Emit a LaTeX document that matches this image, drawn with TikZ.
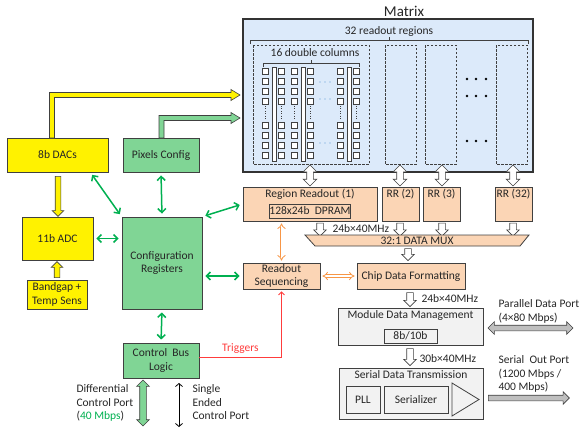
\documentclass[tikz,border=0pt]{standalone}
\usepackage{fontspec}
\setmainfont{Carlito}
\usetikzlibrary{arrows.meta,shapes.arrows,calc}
\definecolor{matblue}{RGB}{220,234,250}
\definecolor{peach}{RGB}{251,213,181}
\definecolor{cfggreen}{RGB}{128,213,149}
\definecolor{arrgreen}{RGB}{0,176,80}
\definecolor{orarr}{RGB}{247,150,70}
\definecolor{edge}{RGB}{64,64,64}
\definecolor{lgray}{RGB}{242,242,242}
\definecolor{mgray}{RGB}{191,191,191}
\definecolor{dotblue}{RGB}{91,155,213}
\definecolor{trigred}{RGB}{255,60,60}

\begin{document}
\begin{tikzpicture}[x=1pt, y=-1pt, font=\fontsize{11.5}{13.5}\selectfont, text=black!85,
	box/.style={draw=edge, line width=0.8pt, inner sep=0pt, align=center},
	pix/.style={draw=edge, fill=white, line width=0.4pt},
	region/.style={draw=edge, line width=0.6pt, dash pattern=on 2.5pt off 1.5pt},
	blkdbl/.style={double arrow, draw=edge, fill=white, line width=0.6pt, inner sep=3pt, double arrow head extend=3.5pt},
	blkarr/.style={single arrow, draw=edge, fill=white, line width=0.6pt, inner sep=3pt, single arrow head extend=3pt},
	garr/.style={arrgreen, line width=1.5pt, {Straight Barb[length=4pt,width=8pt]}-{Straight Barb[length=4pt,width=8pt]}, shorten <=3pt, shorten >=3pt},
	oarr/.style={orarr, line width=0.8pt, double=white, double distance=2pt, {Implies}-{Implies}, shorten <=2pt, shorten >=2pt}]
			\useasboundingbox (0,0) rectangle (581,429);
			% matrix
			\node[box, fill=matblue, line width=1.1pt, draw=black!80, minimum width=290, minimum height=153] (mat) at (388,95.5) {};
			\node[font=\fontsize{15}{16}\selectfont] (mattitle) at (404,11) {Matrix};
			\node (nreg) at (389,31) {32 readout regions};
			\draw[edge] (250,44) -- (250,40) -- (528,40) -- (528,44);
			\draw[edge] (389,40) -- (389,37);
			\draw[region] (253,45) rectangle (369,164);
			\foreach \x in {385, 425, 496}
				\draw[region] (\x,45) rectangle +(31,119);
			\node (ncol) at (315,53) {16 double columns};
			\draw[edge] (263,67) -- (263,63) -- (359,63) -- (359,67);
			\draw[edge] (311,63) -- (311,60);
			\foreach \gx in {262, 291, 337}
			{
				\foreach \r in {68, 78, 88, 98, 122, 132, 142, 152}
				{
					\draw[pix] (\gx,\r) rectangle +(6.5,6.5);
					\draw[pix] (\gx+16,\r) rectangle +(6.5,6.5);
				}
				\filldraw[fill=white, draw=edge, line width=0.6pt] (\gx+10,67) rectangle (\gx+14,161);
				\draw[edge, dotted] (\gx+3.25,106) -- (\gx+3.25,120);
				\draw[edge, dotted] (\gx+19.25,106) -- (\gx+19.25,120);
			}
			\foreach \y in {82, 99, 143}
				\foreach \x in {320, 325, 330}
					\fill[dotblue] (\x,\y) circle (0.6);
			\foreach \y in {79, 96, 141}
				\foreach \x in {467, 476, 486}
					\fill[black] (\x,\y) circle (1.3);
			% readout chain
			\node[box, fill=peach, minimum width=134, minimum height=34, label={[anchor=north, inner sep=2.5pt]north:Region Readout (1)}] (rr1) at (310,204) {};
			\node[box, fill=peach, minimum width=78, minimum height=14] (dpram) at (310,211) {128x24b\ \ DPRAM};
			\node[box, fill=peach, minimum width=37, minimum height=34, label={[anchor=north, inner sep=2.5pt]north:RR (2)}] (rr2) at (400.5,204) {};
			\node[box, fill=peach, minimum width=37, minimum height=34, label={[anchor=north, inner sep=2.5pt]north:RR (3)}] (rr3) at (441.5,204) {};
			\node[box, fill=peach, minimum width=37, minimum height=34, label={[anchor=north, inner sep=2.5pt]north:RR (32)}] (rr32) at (513.5,204) {};
			\foreach \x/\n in {310/1, 400/2, 442/3, 513/32}
				\node[blkdbl, shape border rotate=90, minimum height=21pt] (up\n) at (\x,175.5) {};
			\foreach \x/\n in {320/1, 400/2, 442/3, 513/32}
				\node[blkarr, shape border rotate=270, minimum height=13pt] (dn\n) at (\x,228) {};
			\node[anchor=west] (bw1) at (329,228.5) {24b×40MHz};
			\filldraw[fill=peach, draw=edge, line width=0.8pt] (305,235) -- (529,235) -- (520,246) -- (315,246) -- cycle;
			\node (mux) at (417,240.5) {32:1 DATA MUX};
			\node[blkarr, shape border rotate=270, minimum height=12pt] (dnmux) at (408,253) {};
			\node[box, fill=peach, minimum width=108, minimum height=26] (cdf) at (411,276) {Chip Data Formatting};
			\node[box, fill=peach, minimum width=77, minimum height=26] (rs) at (281.5,276) {Readout\\Sequencing};
			\draw[oarr] (rs.north |- rr1.south) -- (rs.north);
			\draw[oarr] (rs.east) -- (cdf.west);
			\node[blkarr, shape border rotate=270, minimum height=14pt] (dncdf) at (410,298) {};
			\node[anchor=west] (bw2) at (418,299) {24b×40MHz};
			\node[box, fill=lgray, minimum width=145, minimum height=37, label={[anchor=north, inner sep=3pt]north:Module Data Management}] (mdm) at (410.5,326.5) {};
			\node[box, fill=lgray, minimum width=53, minimum height=14] (enc) at (410.5,336) {8b/10b};
			\node[blkarr, shape border rotate=270, minimum height=17pt] (dnmdm) at (410,355.5) {};
			\node[anchor=west] (bw3) at (416,359) {30b×40MHz};
			\node[box, fill=lgray, minimum width=144, minimum height=51, label={[anchor=north, inner sep=3pt]north:Serial Data Transmission}] (sdt) at (411,393.5) {};
			\node[box, fill=lgray, minimum width=34, minimum height=27] (pll) at (363,399.5) {PLL};
			\node[box, fill=lgray, minimum width=64, minimum height=27] (ser) at (416,399.5) {Serializer};
			\filldraw[fill=lgray, draw=edge, line width=0.8pt] (452,383) -- (479,399.5) -- (452,416) -- cycle;
			% output ports
			\node[blkdbl, fill=mgray, inner sep=2.5pt, minimum height=85pt] (par) at (530.5,328) {};
			\node[anchor=north west, align=left] (npar) at (495,296) {Parallel Data Port\\(4×80 Mbps)};
			\node[blkarr, fill=mgray, inner sep=2.5pt, single arrow head extend=3.5pt, minimum height=81pt] (sout) at (527.5,398) {};
			\node[anchor=north west, align=left] (nser) at (495,352) {Serial\ \ Out Port\\(1200 Mbps /\\400 Mbps)};
			% configuration side
			\node[box, fill=yellow, minimum width=101, minimum height=34] (dacs) at (57.5,155) {8b DACs};
			\node[box, fill=cfggreen, minimum width=76, minimum height=34] (pixcfg) at (161,155) {Pixels Config};
			\node[box, fill=yellow, minimum width=71, minimum height=43] (adc) at (57.5,238.5) {11b ADC};
			\node[box, fill=yellow, minimum width=60, minimum height=29] (bgap) at (57,294.5) {Bandgap +\\Temp Sens};
			\node[box, fill=cfggreen, minimum width=80, minimum height=92] (cfg) at (162,263) {Configuration\\Registers};
			\node[box, fill=cfggreen, minimum width=76, minimum height=35] (cbus) at (161,360.5) {Control\ \ Bus\\Logic};
			\filldraw[fill=yellow, draw=edge, line width=0.6pt] (49.5,138) -- (49.5,92.5) -- (231,92.5) -- (231,89.5) -- (240,95) -- (231,100.5) -- (231,97.5) -- (54.5,97.5) -- (54.5,138) -- cycle;
			\filldraw[fill=cfggreen, draw=edge, line width=0.6pt] (159,138) -- (159,115.5) -- (231,115.5) -- (231,112.5) -- (240,118) -- (231,123.5) -- (231,120.5) -- (164,120.5) -- (164,138) -- cycle;
			\node[blkarr, fill=yellow, inner sep=2.5pt, shape border rotate=270, minimum height=40pt] (dacadc) at (58,195) {};
			\node[blkarr, fill=yellow, inner sep=2.5pt, shape border rotate=90, minimum height=16pt] (bgadc) at (57,271) {};
			\draw[garr] ([xshift=-18]dacs.south east) -- (cfg.north west);
			\draw[garr] (pixcfg.south) -- (cfg.north);
			\draw[garr] (adc.east) -- (adc.east -| cfg.west);
			\draw[garr] (cfg.north east) -- (rr1.west);
			\draw[garr] (cfg.east |- rs.west) -- (rs.west);
			\draw[garr] (cfg.south) -- (cbus.north);
			\draw[trigred, line width=0.8pt, -{Straight Barb[length=3pt,width=6pt]}, shorten >=2pt] ([yshift=3]cbus.east) -| node[pos=0.25, above, text=trigred] (ntrig) {Triggers} (rs.south);
			% control ports
			\node[blkdbl, fill=cfggreen, double arrow head extend=3pt, shape border rotate=90, minimum height=46pt] (diff) at (143,403) {};
			\node[anchor=north west, align=left] (ndiff) at (73,381) {Differential\\Control Port\\(\textcolor{arrgreen}{40 Mbps})};
			\coordinate (se1) at (179,383);
			\coordinate (se2) at (179,427);
			\draw[black, line width=0.8pt, {Straight Barb[length=3pt,width=7pt]}-{Straight Barb[length=3pt,width=7pt]}] (se1) -- (se2);
			\node[anchor=north west, align=left] (nse) at (189,381) {Single\\Ended\\Control Port};
		\end{tikzpicture}
\end{document}
